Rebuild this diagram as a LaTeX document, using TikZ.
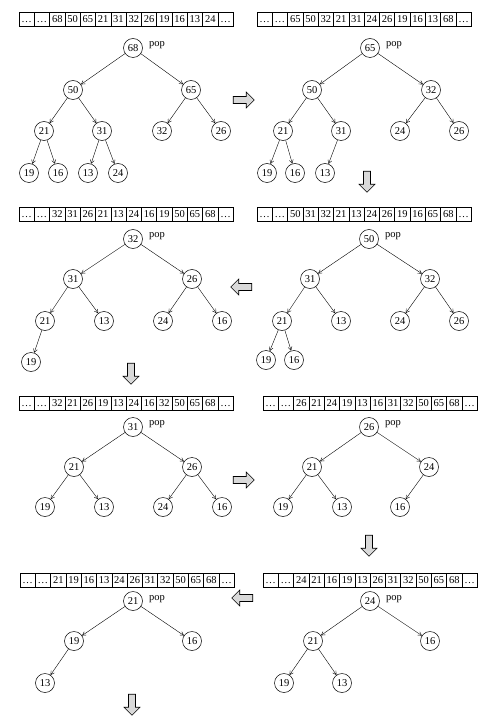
\documentclass[tikz,border=0pt]{standalone}
\usepackage{fontspec}
\setmainfont{Liberation Serif}
\usetikzlibrary{arrows.meta,shapes.arrows}
\tikzset{
 nd/.style={circle,draw,line width=0.5pt,minimum size=19pt,inner sep=0pt,font=\fontsize{10.5}{10.5}\selectfont},
 cell/.style={draw,line width=0.5pt,minimum width=15.3pt,minimum height=14pt,inner sep=0pt,text height=7pt,text depth=0pt,font=\fontsize{10.5}{10.5}\selectfont},
 popl/.style={font=\fontsize{10.5}{10.5}\selectfont,inner sep=0pt},
 edge/.style={line width=0.4pt,-{Straight Barb[length=3.5pt,width=4pt]}},
 bigarr/.style={single arrow,draw,line width=0.6pt,fill=gray!30,minimum height=21pt,minimum width=16pt,single arrow head extend=3pt,inner sep=2pt}
}
\newcommand\myarr[4]{\foreach \v [count=\i] in {#4} \node[cell] (#1-\i) at ({#2+(\i-0.5)*15.3},#3) {\v};}
\begin{document}
\begin{tikzpicture}[x=1pt,y=-1pt]
\useasboundingbox (0,0) rectangle (481,719);
% arrays
\myarr{s1}{19}{19}{\ldots,\ldots,68,50,65,21,31,32,26,19,16,13,24,\ldots}
\myarr{s2}{257}{19}{\ldots,\ldots,65,50,32,21,31,24,26,19,16,13,68,\ldots}
\myarr{s3}{19}{214}{\ldots,\ldots,32,31,26,21,13,24,16,19,50,65,68,\ldots}
\myarr{s4}{257}{214}{\ldots,\ldots,50,31,32,21,13,24,26,19,16,65,68,\ldots}
\myarr{s5}{19}{403}{\ldots,\ldots,32,21,26,19,13,24,16,32,50,65,68,\ldots}
\myarr{s6}{263}{403}{\ldots,\ldots,26,21,24,19,13,16,31,32,50,65,68,\ldots}
\myarr{s7}{20}{580}{\ldots,\ldots,21,19,16,13,24,26,31,32,50,65,68,\ldots}
\myarr{s8}{263}{580}{\ldots,\ldots,24,21,16,19,13,26,31,32,50,65,68,\ldots}
% panel 1
\node[nd] (p1r) at (133,48) {68}; \node[popl] (q1) at (157,45) {pop};
\node[nd] (p1a) at (73,90) {50}; \node[nd] (p1b) at (191,90) {65};
\node[nd] (p1c) at (44,131) {21}; \node[nd] (p1d) at (102,131) {31};
\node[nd] (p1e) at (162,131) {32}; \node[nd] (p1f) at (221,131) {26};
\node[nd] (p1g) at (29,173) {19}; \node[nd] (p1h) at (58,173) {16};
\node[nd] (p1i) at (88,173) {13}; \node[nd] (p1j) at (118,173) {24};
% panel 2
\node[nd] (p2r) at (370,48) {65}; \node[popl] (q2) at (394,45) {pop};
\node[nd] (p2a) at (312,90) {50}; \node[nd] (p2b) at (431,90) {32};
\node[nd] (p2c) at (283,131) {21}; \node[nd] (p2d) at (341,131) {31};
\node[nd] (p2e) at (400,131) {24}; \node[nd] (p2f) at (459,131) {26};
\node[nd] (p2g) at (267,173) {19}; \node[nd] (p2h) at (295,173) {16};
\node[nd] (p2i) at (325,173) {13};
% panel 3
\node[nd] (p3r) at (133,239) {32}; \node[popl] (q3) at (157,236) {pop};
\node[nd] (p3a) at (73,279) {31}; \node[nd] (p3b) at (192,279) {26};
\node[nd] (p3c) at (45,321) {21}; \node[nd] (p3d) at (104,321) {13};
\node[nd] (p3e) at (163,321) {24}; \node[nd] (p3f) at (222,321) {16};
\node[nd] (p3g) at (31,362) {19};
% panel 4
\node[nd] (p4r) at (369,239) {50}; \node[popl] (q4) at (393,236) {pop};
\node[nd] (p4a) at (310,279) {31}; \node[nd] (p4b) at (430,279) {32};
\node[nd] (p4c) at (282,321) {21}; \node[nd] (p4d) at (341,321) {13};
\node[nd] (p4e) at (400,321) {24}; \node[nd] (p4f) at (459,321) {26};
\node[nd] (p4g) at (266,360) {19}; \node[nd] (p4h) at (294,360) {16};
% panel 5
\node[nd] (p5r) at (133,427) {31}; \node[popl] (q5) at (157,424) {pop};
\node[nd] (p5a) at (74,467) {21}; \node[nd] (p5b) at (192,467) {26};
\node[nd] (p5c) at (45,507) {19}; \node[nd] (p5d) at (104,507) {13};
\node[nd] (p5e) at (163,507) {24}; \node[nd] (p5f) at (222,507) {16};
% panel 6
\node[nd] (p6r) at (369,427) {26}; \node[popl] (q6) at (393,424) {pop};
\node[nd] (p6a) at (312,467) {21}; \node[nd] (p6b) at (429,467) {24};
\node[nd] (p6c) at (283,507) {19}; \node[nd] (p6d) at (342,507) {13};
\node[nd] (p6e) at (400,507) {16};
% panel 7
\node[nd] (p7r) at (133,601) {21}; \node[popl] (q7) at (157,599) {pop};
\node[nd] (p7a) at (74,641) {19}; \node[nd] (p7b) at (192,641) {16};
\node[nd] (p7c) at (45,683) {13};
% panel 8
\node[nd] (p8r) at (370,601) {24}; \node[popl] (q8) at (394,599) {pop};
\node[nd] (p8a) at (313,641) {21}; \node[nd] (p8b) at (430,641) {16};
\node[nd] (p8c) at (284,683) {19}; \node[nd] (p8d) at (342,683) {13};
% edges
\foreach \a/\b in {p1r/p1a,p1r/p1b,p1a/p1c,p1a/p1d,p1b/p1e,p1b/p1f,p1c/p1g,p1c/p1h,p1d/p1i,p1d/p1j,
 p2r/p2a,p2r/p2b,p2a/p2c,p2a/p2d,p2b/p2e,p2b/p2f,p2c/p2g,p2c/p2h,p2d/p2i,
 p3r/p3a,p3r/p3b,p3a/p3c,p3a/p3d,p3b/p3e,p3b/p3f,p3c/p3g,
 p4r/p4a,p4r/p4b,p4a/p4c,p4a/p4d,p4b/p4e,p4b/p4f,p4c/p4g,p4c/p4h,
 p5r/p5a,p5r/p5b,p5a/p5c,p5a/p5d,p5b/p5e,p5b/p5f,
 p6r/p6a,p6r/p6b,p6a/p6c,p6a/p6d,p6b/p6e,
 p7r/p7a,p7r/p7b,p7a/p7c,
 p8r/p8a,p8r/p8b,p8a/p8c,p8a/p8d}
 \draw[edge] (\a) -- (\b);
% big arrows
\node[bigarr] (ar1) at (242,100) {};
\node[bigarr,shape border rotate=270] (ar2) at (367,180) {};
\node[bigarr,shape border rotate=180] (ar3) at (243,287) {};
\node[bigarr,shape border rotate=270] (ar4) at (131,372) {};
\node[bigarr] (ar5) at (242,480) {};
\node[bigarr,shape border rotate=270] (ar6) at (369,544) {};
\node[bigarr,shape border rotate=180] (ar7) at (244,598) {};
\node[bigarr,shape border rotate=270] (ar8) at (132,703) {};
\end{tikzpicture}
\end{document}
